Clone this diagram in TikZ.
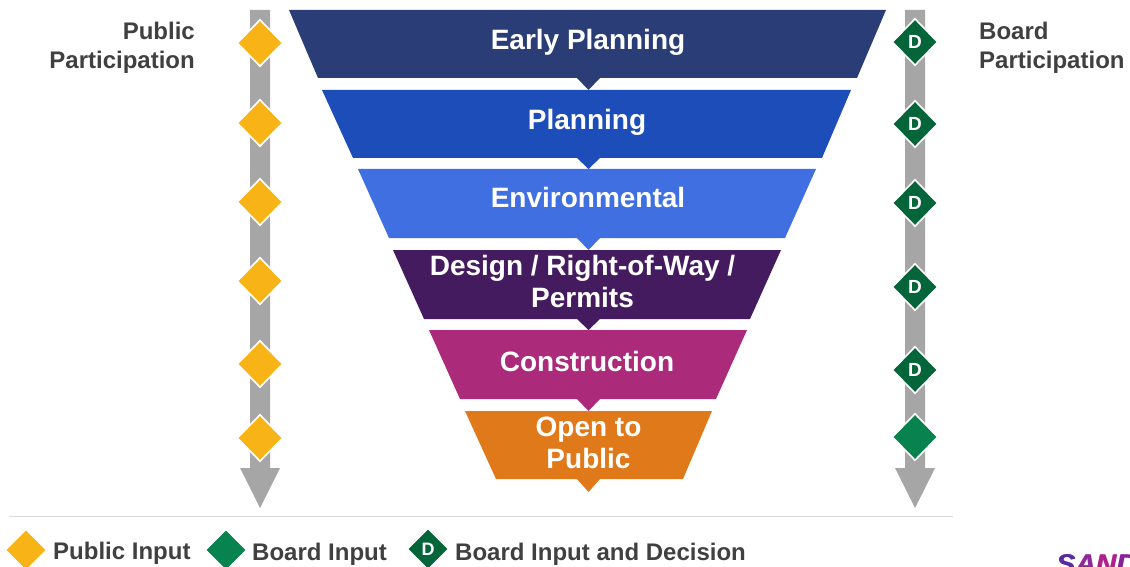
\documentclass[tikz,border=0pt]{standalone}
\usepackage{fontspec}
\setmainfont{Liberation Sans}
\usetikzlibrary{shapes.geometric}
\definecolor{cA}{HTML}{2A3D76}
\definecolor{cB}{HTML}{1D4DB8}
\definecolor{cC}{HTML}{3F6FE0}
\definecolor{cD}{HTML}{451B60}
\definecolor{cE}{HTML}{AB2A7A}
\definecolor{cF}{HTML}{E0791A}
\definecolor{amber}{HTML}{F8B416}
\definecolor{dgreen}{HTML}{05653A}
\definecolor{mgreen}{HTML}{08824F}
\definecolor{txt}{HTML}{404040}
\definecolor{barg}{HTML}{A6A6A6}
\definecolor{logoa}{HTML}{5A2CA0}
\definecolor{logob}{HTML}{8E2A9A}
\definecolor{logoc}{HTML}{B0208A}
\definecolor{logod}{HTML}{8A1F9A}
\tikzset{
  x=1pt,y=-1pt,
  band/.style={align=center,text=white,font=\fontsize{28}{32}\selectfont\bfseries,inner sep=0},
  sidelabel/.style={text=txt,font=\fontsize{24}{29}\selectfont\bfseries,inner sep=0},
  legendlabel/.style={text=txt,anchor=west,font=\fontsize{24}{28}\selectfont\bfseries,inner sep=0},
  dia/.style={diamond,aspect=1,inner sep=0,minimum width=46pt,minimum height=47pt,draw=white,line width=1.6pt,text=white,font=\fontsize{19}{20}\selectfont\bfseries},
  pub/.style={dia,fill=amber},
  brd/.style={dia,fill=mgreen},
  dec/.style={dia,fill=dgreen},
  legpub/.style={diamond,aspect=1,inner sep=0,minimum width=39pt,minimum height=39pt,fill=amber},
  legbrd/.style={diamond,aspect=1,inner sep=0,minimum width=39pt,minimum height=39pt,fill=mgreen},
  legdec/.style={diamond,aspect=1,inner sep=0,minimum width=39pt,minimum height=39pt,fill=dgreen,text=white,font=\fontsize{18}{20}\selectfont\bfseries},
  logotext/.style={anchor=base west,inner sep=0,xscale=1.05,font=\fontsize{27}{28}\selectfont\bfseries\itshape},
}
\newcommand{\logoword}{\textcolor{logoa}{S}\textcolor{logob}{A}\textcolor{logoc}{N}\textcolor{logod}{D}}
\begin{document}
\begin{tikzpicture}
\useasboundingbox (0,0) rectangle (1130,567);
\fill[white] (0,0) rectangle (1130,567);
% side arrows
\fill[barg] (250,10) -- (270,10) -- (270,468) -- (280,468) -- (260,508) -- (240,468) -- (250,468) -- cycle;
\fill[barg] (905,10) -- (925,10) -- (925,468) -- (935,468) -- (915,508) -- (895,468) -- (905,468) -- cycle;
% funnel
\fill[cA] (289,10) -- (886,10) -- (857,78) -- (600,78) -- (588.5,90) -- (577,78) -- (318,78) -- cycle;
\fill[cB] (322,90) -- (851,90) -- (822,158) -- (600,158) -- (588.5,169) -- (577,158) -- (353,158) -- cycle;
\fill[cC] (358,169) -- (816,169) -- (785,238) -- (600,238) -- (588.5,250) -- (577,238) -- (389,238) -- cycle;
\fill[cD] (393,250) -- (781,250) -- (750,319) -- (600,319) -- (588.5,330) -- (577,319) -- (424,319) -- cycle;
\fill[cE] (429,330) -- (747,330) -- (716,399) -- (600,399) -- (588.5,411) -- (577,399) -- (460,399) -- cycle;
\fill[cF] (465,411) -- (712,411) -- (683,479) -- (600,479) -- (588.5,492) -- (577,479) -- (496,479) -- cycle;
\node[band] (early) at (588,42) {Early Planning};
\node[band] (plan) at (587,122) {Planning};
\node[band] (env) at (588,197.5) {Environmental};
\node[band] (design) at (582.5,281.5) {Design / Right-of-Way /\\Permits};
\node[band] (constr) at (587,361) {Construction};
\node[band] (open) at (588.5,442.5) {Open to\\Public};
% diamonds
\node[pub] (p1) at (260,43) {};
\node[pub] (p2) at (260,123) {};
\node[pub] (p3) at (260,202) {};
\node[pub] (p4) at (260,281) {};
\node[pub] (p5) at (260,364) {};
\node[pub] (p6) at (260,438) {};
\node[dec] (b1) at (915,42) {D};
\node[dec] (b2) at (915,124) {D};
\node[dec] (b3) at (915,203) {D};
\node[dec] (b4) at (915,287) {D};
\node[dec] (b5) at (915,370) {D};
\node[brd] (b6) at (915,437) {};
% side labels
\node[sidelabel,align=right,anchor=east] (pp) at (195,47.5) {Public\\Participation};
\node[sidelabel,align=left,anchor=west] (bp) at (979,47.5) {Board\\Participation};
% rule
\draw[color=black!15,line width=1pt] (9,516) -- (953,516);
% legend
\node[legpub] (lp) at (26,550) {};
\node[legendlabel] (ltp) at (53,553) {Public Input};
\node[legbrd] (lb) at (226,550) {};
\node[legendlabel] (ltb) at (252,554) {Board Input};
\node[legdec] (ld) at (428,549) {D};
\node[legendlabel] (ltd) at (455,554) {Board Input and Decision};
% logo
\begin{scope}
\clip (1050,550) rectangle (1130,567);
\node[logotext] (logo) at (1056,573) {\logoword};
\node[logotext] (logob) at (1056.7,573) {\logoword};
\end{scope}
\end{tikzpicture}
\end{document}
